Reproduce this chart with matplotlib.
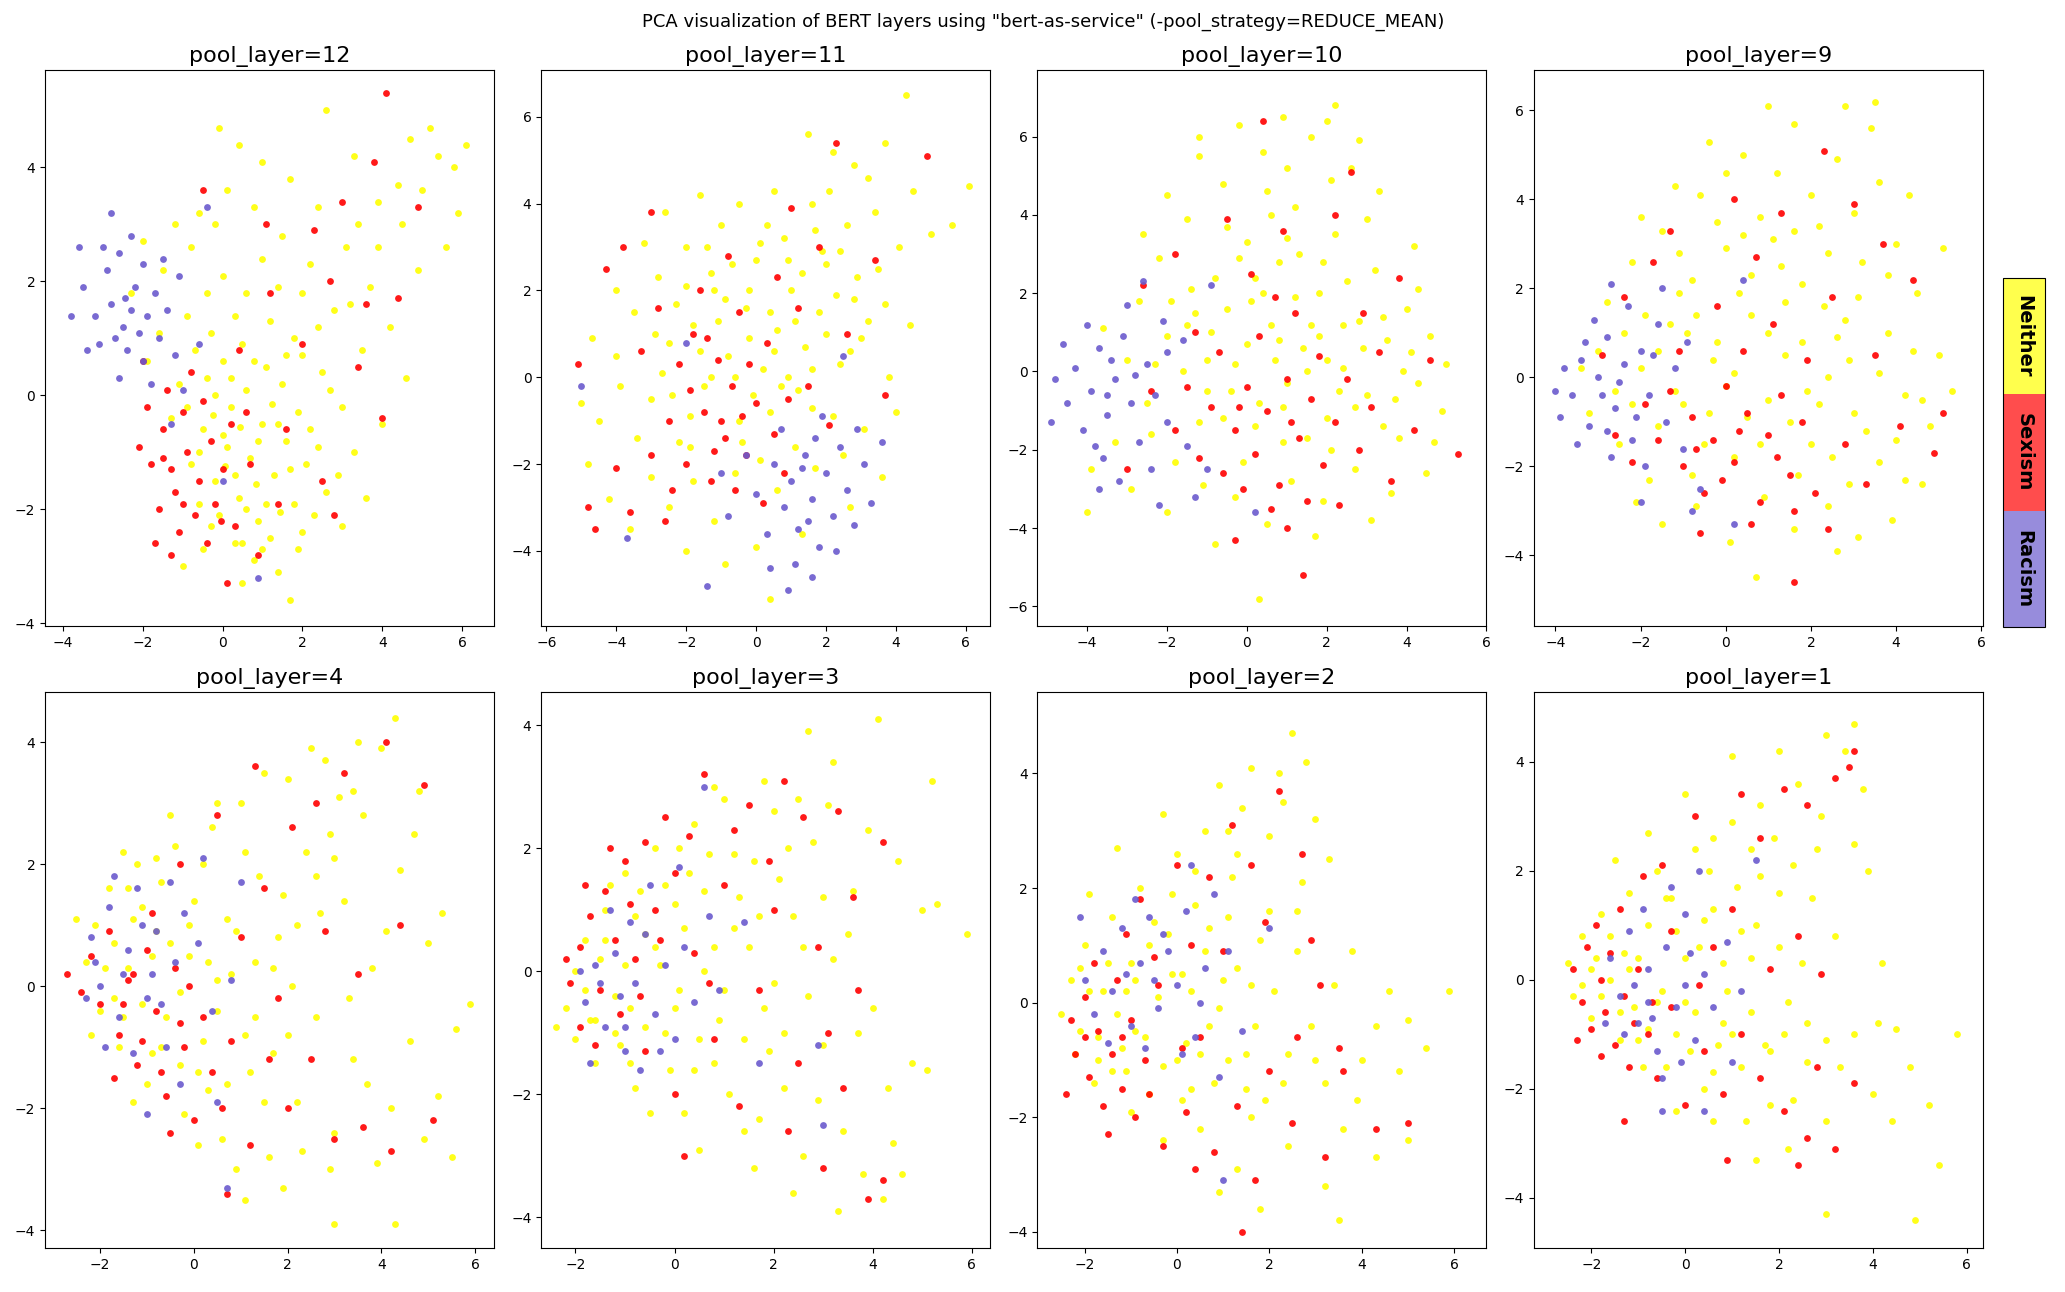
import matplotlib
matplotlib.use("Agg")
import matplotlib.pyplot as plt
from matplotlib.colors import ListedColormap, Normalize
from matplotlib.cm import ScalarMappable

# pool layers shown, in panel order
layers = [12, 11, 10, 9, 4, 3, 2, 1]
class_names = ["Neither", "Sexism", "Racism"]

# points, (PC1, PC2) per class and layer
neither_12 = [(-0.8,-1.2),(-0.5,-0.6),(-0.2,-1.5),(0.1,-0.9),(0.4,-1.8),(0.7,-1.1),(1.0,-0.5),(1.3,-1.4),(1.6,-0.8),(0.2,-0.2),
              (-0.4,0.3),(0.6,0.1),(0.9,-2.2),(0.3,-2.6),(-0.1,-2.1),(1.2,-2.5),(1.8,-1.9),(2.1,-1.2),(1.5,0.2),(0.0,0.6),
              (-0.7,0.8),(-1.1,0.2),(-1.3,-0.4),(-0.9,1.4),(-0.3,1.1),(0.5,0.9),(1.1,0.5),(1.9,-0.3),(2.4,-0.9),(2.6,-1.7),
              (0.8,-2.9),(1.4,-3.1),(0.5,-3.3),(-0.5,-2.7),(-0.6,-1.9),(0.05,-1.25),(0.85,-1.55),(1.45,-2.05),(-0.25,-0.35),(0.45,-0.55),
              (1.25,-0.15),(2.0,0.7),(-1.6,1.1),(-1.9,0.6),(-2.3,1.8),(-1.5,2.2),(-0.8,2.6),(0.0,2.1),(0.6,1.8),(1.2,1.3),
              (1.8,1.0),(2.5,0.4),(3.0,-0.2),(3.3,-1.0),(3.6,-1.8),(2.8,1.5),(2.2,2.3),(1.5,2.8),(0.8,3.3),(0.1,3.6),
              (-0.6,3.2),(-1.2,3.0),(-2.0,2.7),(0.4,4.4),(1.0,4.1),(1.7,3.8),(2.4,3.3),(3.1,2.6),(3.7,1.9),(4.2,1.2),
              (4.6,0.3),(3.9,3.4),(4.5,3.0),(5.0,3.6),(5.4,4.2),(5.8,4.0),(6.1,4.4),(5.2,4.7),(4.7,4.5),(3.3,4.2),
              (2.6,5.0),(5.6,2.6),(5.9,3.2),(4.9,2.2),(4.0,-0.5),(3.5,0.8),(2.9,-1.4),(2.0,-2.4),(3.0,-2.3),(1.7,-3.6),
              (-0.1,4.7),(-1.0,-3.0),(-0.2,3.0),(1.0,2.4),(2.0,1.8),(-0.6,-1.0),(-0.3,-2.3),(0.0,-0.7),(0.3,-1.4),(0.6,-2.0),
              (0.9,-0.8),(1.1,-1.9),(1.4,-0.5),(1.7,-1.3),(2.2,-0.6),(0.2,0.3),(0.8,0.6),(-0.2,0.0),(0.5,-2.6),(1.0,-2.7),
              (1.9,-2.7),(2.3,-2.1),(-0.9,-0.2),(1.6,0.7),(2.7,0.1),(0.3,1.4),(1.4,1.9),(2.4,1.2),(3.2,1.6),(3.9,2.6),
              (4.4,3.7),(3.4,3.0),(-0.4,1.8)]
sexism_12 = [(-1.8,-1.2),(-1.5,-0.6),(-1.2,-1.7),(-0.9,-1.0),(-0.6,-1.5),(-0.3,-0.8),(-1.6,-2.0),(-1.1,-2.4),(-0.7,-2.1),(-0.2,-1.9),
             (-1.9,-0.2),(-1.4,0.1),(-1.0,-0.3),(-0.5,-0.1),(0.0,-1.3),(0.3,-2.3),(-2.1,-0.9),(-1.3,-1.3),(-0.4,-2.6),(0.2,-0.5),
             (-0.8,0.4),(-2.0,0.6),(-1.7,-2.6),(-1.3,-2.8),(0.1,-3.3),(0.9,-2.8),(0.6,-0.3),(0.4,0.8),(1.2,1.8),(2.3,2.9),
             (3.0,3.4),(4.1,5.3),(3.8,4.1),(2.0,0.9),(1.6,-0.6),(2.5,-1.5),(3.4,0.5),(4.0,-0.4),(3.6,1.6),(2.7,2.0),
             (1.1,3.0),(-0.5,3.6),(0.7,-1.2),(-1.0,-1.9),(-1.5,-1.1),(-0.05,-2.2),(4.4,1.7),(4.9,3.3),(2.8,-2.1),(1.4,-1.9)]
racism_12 = [(-2.8,1.6),(-2.5,1.2),(-2.2,1.9),(-1.9,1.4),(-1.6,1.0),(-2.4,0.8),(-2.9,2.2),(-2.6,2.5),(-2.0,2.3),(-1.7,1.8),
             (-3.2,1.4),(-3.5,1.9),(-3.1,0.9),(-2.0,0.6),(-1.4,1.5),(-1.2,0.7),(-2.3,1.5),(-2.7,1.0),(-1.8,0.2),(-2.6,0.3),
             (-3.4,0.8),(-3.8,1.4),(-3.0,2.6),(-2.3,2.8),(-1.5,2.4),(-2.8,3.2),(-1.0,0.1),(-0.6,0.9),(-0.4,3.3),(0.0,-1.5),
             (-1.3,-0.5),(0.9,-3.2),(-1.1,2.1),(-2.1,1.1),(-2.45,1.7),(-3.6,2.6)]

neither_11 = [(-4.5,-1.0),(-4.0,0.5),(-3.5,1.5),(-3.0,-0.5),(-2.8,2.3),(-2.5,0.8),(-2.2,-1.5),(-2.0,3.0),(-1.8,1.2),(-1.5,-0.2),
              (-1.2,2.0),(-1.0,3.5),(-0.8,0.5),(-0.5,-1.0),(-0.3,1.6),(0.0,2.7),(0.2,0.2),(0.4,-0.8),(0.6,1.1),(0.8,3.2),
              (1.0,2.0),(1.2,-0.3),(1.4,0.7),(1.6,4.0),(1.8,1.5),(2.0,2.6),(2.2,-0.9),(2.4,0.3),(2.6,3.5),(2.8,1.8),
              (3.0,0.9),(3.2,4.6),(3.5,2.5),(3.8,0.0),(4.1,3.0),(4.4,1.2),(2.2,5.2),(1.5,5.6),(0.5,4.3),(-0.5,4.0),
              (-1.6,4.2),(-2.6,3.8),(-3.2,3.1),(-4.0,2.0),(-4.7,0.9),(-5.0,-0.6),(-4.8,-2.0),(-4.2,-2.8),(-3.6,-3.5),(-3.0,-2.3),
              (-2.5,-3.0),(-1.8,-2.4),(-1.2,-3.3),(-0.6,-2.2),(0.1,-1.9),(0.6,-2.6),(1.1,-1.6),(1.7,-2.1),(2.5,-1.8),(3.1,-1.2),
              (3.6,-2.3),(2.7,-3.0),(1.3,-3.6),(0.0,-3.9),(-0.9,-4.3),(0.4,-5.1),(-2.0,-4.0),(4.0,-0.8),(4.5,4.3),(5.0,3.3),
              (5.6,3.5),(4.3,6.5),(6.1,4.4),(3.7,5.4),(2.8,4.9),(-1.3,0.0),(-0.2,0.9),(0.9,0.0),(1.9,2.9),(-2.3,1.7),
              (-3.4,-1.4),(-0.7,2.6),(0.3,3.5),(1.6,-0.7),(-1.9,-0.9),(-3.9,-0.2),(2.9,2.3),(3.4,3.8),(-0.1,-0.4),(1.1,1.3),
              (-2.7,0.1),(-1.4,3.0),(-2.4,-0.4),(-2.0,2.1),(-1.6,0.6),(-1.1,1.3),(-0.6,0.0),(-0.2,2.0),(0.4,1.5),(0.7,-0.2),
              (1.3,2.4),(1.6,0.2),(2.0,1.0),(2.3,1.9),(2.7,0.6),(3.2,1.3),(-0.9,1.8),(-1.9,-1.6),(0.1,3.1),(0.9,2.7),
              (1.7,3.4),(2.4,2.9),(-2.9,1.0),(-0.4,-1.5),(0.5,0.6),(3.7,1.7),(2.1,4.3),(-1.3,2.4)]
sexism_11 = [(-2.5,-1.0),(-2.2,0.3),(-2.0,-2.0),(-1.8,1.0),(-1.5,-0.8),(-1.3,-2.4),(-1.1,0.4),(-0.9,-1.4),(-0.7,-0.2),(-0.5,1.5),
             (-0.3,-1.8),(0.0,-0.6),(0.3,0.8),(0.5,-1.3),(0.8,-2.2),(-1.6,2.0),(-2.8,1.6),(-3.3,0.6),(-3.0,-1.8),(-2.4,-2.6),
             (-1.0,-1.0),(-0.6,-2.6),(0.2,-2.9),(-1.9,-0.3),(-1.2,-1.7),(-0.2,0.3),(1.2,1.6),(1.8,3.0),(2.3,5.4),(2.6,1.0),
             (3.4,2.7),(4.9,5.1),(3.7,-0.4),(2.1,-1.1),(-3.8,3.0),(-4.0,-2.1),(-4.6,-3.5),(-4.8,-3.0),(-5.1,0.3),(-4.3,2.5),
             (-3.6,-3.1),(-0.8,2.8),(0.6,2.3),(1.5,-0.2),(-2.6,-3.3),(-1.4,0.9),(-0.4,-0.9),(1.0,3.9),(-3.0,3.8),(0.9,-0.5)]
racism_11 = [(0.5,-2.0),(0.8,-3.0),(1.0,-2.4),(1.2,-3.5),(1.4,-1.8),(1.6,-2.8),(1.8,-3.9),(2.0,-2.2),(2.2,-3.2),(2.4,-1.6),
             (2.6,-2.6),(0.3,-3.6),(0.0,-2.7),(1.1,-4.3),(1.6,-4.6),(2.8,-3.4),(3.1,-2.0),(2.9,-1.2),(0.7,-1.2),(1.9,-0.9),
             (-0.3,-1.8),(-0.8,-3.2),(-1.4,-4.8),(0.4,-4.4),(2.3,-4.0),(3.3,-2.9),(1.3,-2.1),(1.7,-1.4),(-1.0,-2.2),(3.6,-1.5),
             (-2.0,0.8),(-5.0,-0.2),(-3.7,-3.7),(2.5,0.5),(1.5,-3.3),(0.9,-4.9)]

neither_10 = [(-3.3,-1.8),(-3.0,0.3),(-2.7,1.8),(-2.5,-0.8),(-2.2,2.9),(-2.0,0.9),(-1.8,-2.3),(-1.5,3.9),(-1.3,1.5),(-1.0,-0.5),
              (-0.8,2.4),(-0.6,4.8),(-0.3,0.2),(0.0,3.3),(0.2,-1.4),(0.4,5.6),(0.6,1.2),(0.8,2.8),(1.0,-0.3),(1.2,4.2),
              (1.4,0.6),(1.6,6.0),(1.8,2.0),(2.0,-1.2),(2.2,3.5),(2.4,0.1),(2.6,5.2),(2.8,1.3),(3.0,-0.6),(3.2,2.6),
              (3.5,0.8),(3.8,-1.7),(4.0,1.6),(4.3,-0.3),(4.6,0.9),(4.9,-1.0),(5.0,0.2),(4.5,-2.6),(3.6,-3.1),(2.7,-2.5),
              (1.9,-3.3),(1.1,-2.8),(0.5,-3.9),(-0.3,-3.2),(-1.1,-2.9),(-2.0,-3.6),(-0.8,-4.4),(0.3,-5.8),(2.2,6.8),(2.0,6.4),
              (1.0,5.2),(-0.2,6.3),(-1.2,5.5),(-2.0,4.5),(3.3,4.6),(3.0,3.9),(4.2,3.2),(4.3,2.1),(-3.6,1.1),(-3.9,-2.5),
              (-2.9,-3.0),(3.1,-3.8),(1.7,-4.2),(0.7,0.3),(-0.6,-1.2),(1.5,-1.7),(2.9,0.6),(-1.6,0.0),(0.1,1.8),(1.3,3.0),
              (-0.5,3.7),(2.5,2.3),(3.9,0.0),(-2.4,-1.6),(0.9,-0.9),(-1.4,2.1),(0.6,4.0),(2.3,-0.5),(-0.1,-2.3),(3.4,-1.4),
              (4.7,-1.8),(1.8,0.9),(-0.9,1.0),(-2.6,3.5),(0.2,2.4),(2.1,4.9),(-4.0,-3.6),(-1.2,6.0),(2.8,5.9),(0.9,6.5),
              (-1.5,1.2),(-1.0,0.3),(-0.5,1.6),(0.0,0.7),(0.4,2.0),(0.8,0.8),(1.2,1.9),(1.6,1.2),(2.0,0.3),(2.4,1.2),
              (2.7,-0.9),(-0.4,-0.5),(0.3,-0.8),(1.5,0.0),(-1.9,1.8),(-0.2,2.9),(1.0,3.4),(1.9,2.8),(3.4,1.4),(3.7,-0.7),
              (-1.2,-1.3),(0.9,-1.8),(2.1,-2.0),(4.1,0.5),(-2.3,0.2),(0.5,4.6)]
sexism_10 = [(-1.8,-1.5),(-1.5,-0.4),(-1.2,-2.2),(-0.9,-0.9),(-0.6,-2.6),(-0.3,-1.5),(0.0,-0.4),(0.2,-2.1),(0.5,-1.0),(0.8,-2.9),
             (1.0,-0.2),(1.3,-1.7),(1.6,-0.7),(1.9,-2.4),(2.2,-1.3),(2.5,-0.2),(2.8,-2.0),(3.1,-0.9),(-0.7,0.5),(0.3,0.9),
             (1.2,1.5),(-1.3,1.0),(0.6,-3.5),(1.5,-3.3),(-0.1,-3.0),(2.3,-3.4),(0.9,3.6),(0.4,6.4),(-1.8,3.0),(-0.5,3.9),
             (2.2,4.0),(2.6,5.1),(3.8,2.4),(4.2,-1.5),(4.6,0.3),(5.3,-2.1),(3.6,-2.8),(-2.4,-0.5),(-3.0,-2.5),(-2.6,2.2),
             (1.4,-5.2),(1.0,-4.0),(-0.3,-4.3),(0.7,1.9),(1.8,0.4),(-0.2,-0.9),(1.1,-1.3),(0.1,2.5),(3.3,0.5),(2.9,1.5)]
racism_10 = [(-4.5,-0.8),(-4.3,0.1),(-4.1,-1.5),(-3.9,-0.5),(-3.7,0.6),(-3.5,-1.1),(-3.3,-0.2),(-3.1,0.9),(-2.9,-0.8),(-2.7,-1.8),
             (-2.5,0.2),(-2.3,-0.6),(-2.1,1.3),(-3.6,-2.2),(-4.0,1.2),(-4.8,-0.2),(-4.9,-1.3),(-3.0,1.7),(-2.4,-2.5),(-3.4,0.3),
             (-3.8,-1.9),(-2.8,-0.1),(-2.0,-1.3),(-1.5,-1.9),(-1.6,0.8),(-2.6,2.3),(-3.2,-2.8),(-1.0,-2.5),(-4.6,0.7),(-3.5,-0.6),
             (-2.2,-3.4),(0.2,-3.6),(-1.3,-3.2),(-3.7,-3.0),(-0.9,2.2),(-2.0,0.5)]

neither_9 = [(-3.2,-0.8),(-3.0,0.6),(-2.8,1.7),(-2.5,-1.5),(-2.2,2.6),(-2.0,0.2),(-1.8,-2.3),(-1.5,3.3),(-1.3,1.2),(-1.0,-0.6),
             (-0.8,2.2),(-0.6,4.1),(-0.3,0.4),(0.0,2.9),(0.2,-1.8),(0.4,5.0),(0.6,1.4),(0.8,3.6),(1.0,-0.5),(1.2,4.6),
             (1.4,0.5),(1.6,5.7),(1.8,2.1),(2.0,-1.5),(2.2,3.4),(2.4,0.0),(2.6,4.9),(2.8,1.3),(3.0,-0.8),(3.2,2.6),
             (3.4,5.6),(3.6,-1.9),(3.8,1.0),(4.0,3.0),(4.2,-0.4),(4.5,1.9),(4.8,-1.1),(5.0,0.5),(5.3,-0.3),(5.1,2.9),
             (4.6,-2.4),(3.9,-3.2),(3.1,-3.6),(2.4,-2.9),(1.6,-3.4),(0.9,-2.7),(0.1,-3.7),(-0.7,-2.9),(-1.5,-3.3),(-2.1,-2.8),
             (0.7,-4.5),(2.8,6.1),(3.5,6.2),(1.0,6.1),(-0.4,5.3),(-1.2,4.3),(-2.0,3.6),(4.3,4.1),(3.6,4.4),(2.0,4.1),
             (-3.4,0.2),(-2.6,-0.3),(-1.6,-1.1),(-0.5,-1.5),(0.5,-0.9),(1.5,-1.0),(2.5,-1.8),(3.3,-1.2),(4.4,0.6),(-0.9,1.0),
             (0.3,1.9),(1.3,2.5),(2.3,1.6),(3.0,3.7),(-1.9,1.4),(-0.2,3.5),(1.9,-0.3),(0.0,-0.2),(2.9,0.4),(-2.4,1.0),
             (4.0,-1.4),(1.1,3.1),(-1.1,2.8),(2.6,-3.9),(0.0,4.6),(-1.6,0.6),(-1.2,-0.3),(-0.7,1.4),(-0.2,0.8),(0.2,0.1),
             (0.6,2.3),(1.0,1.0),(1.4,1.7),(1.8,0.8),(2.2,-0.6),(2.6,0.9),(3.1,1.8),(-0.4,-0.8),(0.8,-1.5),(1.7,-2.2),
             (2.9,-2.4),(3.6,0.1),(-1.1,1.9),(0.4,3.2),(1.6,3.3),(2.4,2.8),(3.8,2.3),(4.6,-0.5),(-2.2,-0.6),(-0.8,-2.2),
             (4.2,-2.3)]
sexism_9 = [(-1.6,-1.4),(-1.3,-0.3),(-1.0,-2.0),(-0.8,-0.9),(-0.5,-2.6),(-0.3,-1.4),(0.0,-0.2),(0.2,-1.9),(0.5,-0.8),(0.8,-2.8),
            (1.0,-1.3),(1.3,-0.4),(1.5,-2.2),(1.8,-1.0),(2.1,-2.6),(-1.9,-0.6),(-2.2,-1.9),(-1.1,0.6),(0.4,0.6),(1.1,1.2),
            (-0.2,1.6),(0.6,-3.3),(-0.6,-3.5),(1.6,-3.0),(2.4,-3.4),(1.6,-4.6),(0.7,2.7),(1.3,3.7),(2.3,5.1),(3.0,3.9),
            (-1.3,3.3),(0.2,4.0),(2.5,1.8),(3.5,0.5),(4.1,-1.1),(4.4,2.2),(4.9,-1.7),(5.1,-0.8),(3.3,-2.4),(-2.6,-1.3),
            (-2.9,0.5),(-1.7,2.6),(-0.7,-1.6),(0.3,-1.2),(1.9,0.4),(2.8,-1.5),(-0.1,-2.3),(3.7,3.0),(-2.4,1.8),(1.2,-1.8)]
racism_9 = [(-3.6,-0.4),(-3.4,0.4),(-3.2,-1.1),(-3.0,0.0),(-2.8,0.9),(-2.6,-0.7),(-2.4,0.3),(-2.2,-1.4),(-2.0,0.6),(-1.8,-0.4),
            (-1.6,1.2),(-3.1,1.3),(-2.7,-1.8),(-3.8,0.2),(-4.0,-0.3),(-3.5,-1.5),(-2.3,1.6),(-1.4,-1.0),(-1.2,0.2),(-2.5,-0.1),
            (-2.9,-0.4),(-1.9,-2.0),(-1.0,-1.6),(-0.6,-2.5),(-2.0,-2.8),(-1.5,2.0),(-3.3,0.8),(-2.1,-0.9),(-0.9,0.8),(0.2,-3.3),
            (-0.8,-3.0),(-2.7,2.1),(0.4,2.2),(-1.7,0.5),(-2.8,-1.2),(-3.9,-0.9)]

neither_4 = [(-2.3,0.4),(-2.1,1.0),(-2.0,-0.4),(-1.8,1.6),(-1.6,-1.0),(-1.4,0.3),(-1.2,2.0),(-1.0,-1.6),(-0.8,0.9),(-0.6,-0.5),
             (-0.4,2.3),(-0.2,-2.1),(0.0,1.4),(0.2,-0.9),(0.4,2.6),(0.6,-2.5),(0.8,0.2),(1.0,3.0),(1.2,-1.4),(1.4,1.8),
             (1.6,-2.8),(1.8,0.8),(2.0,3.4),(2.2,-1.9),(2.4,2.2),(2.6,-0.5),(2.8,3.7),(3.0,-2.4),(3.2,1.4),(3.4,-1.2),
             (3.6,2.8),(3.8,0.3),(4.0,3.9),(4.2,-2.0),(4.4,1.9),(4.6,-0.9),(4.8,3.2),(5.0,0.7),(5.2,-1.8),(5.5,-2.8),
             (5.9,-0.3),(5.3,1.2),(4.3,4.4),(4.7,2.5),(3.5,4.0),(2.5,3.9),(1.5,3.5),(0.5,3.0),(-0.5,2.8),(-1.5,2.2),
             (0.9,-3.0),(1.9,-3.3),(2.9,-3.0),(3.9,-2.9),(1.1,-3.5),(3.0,-3.9),(4.3,-3.9),(-0.9,-1.1),(-0.1,0.5),(0.7,1.1),
             (1.3,-0.5),(2.1,0.0),(-1.7,-0.2),(-1.1,1.3),(0.3,-1.7),(1.1,2.2),(2.7,1.2),(3.3,-0.2),(-0.3,-1.3),(0.5,0.1),
             (1.7,-1.1),(-2.5,1.1),(-0.7,1.7),(0.1,-2.6),(2.3,-2.7),(3.7,-1.6),(4.1,0.9),(-1.3,-1.9),(1.9,1.5),(2.9,2.5),
             (3.1,3.1),(0.2,2.0),(-2.2,-0.8),(4.9,-2.5),(5.6,-0.7),(-1.9,0.3),(-1.7,0.7),(-1.5,-0.5),(-1.3,1.1),(-1.1,-0.3),
             (-0.9,0.5),(-0.7,-1.0),(-0.5,0.7),(-0.3,-0.1),(-0.1,1.0),(0.1,-1.4),(0.3,0.4),(0.5,-0.4),(0.7,-1.6),(0.9,0.9),
             (1.1,-0.8),(1.3,0.4),(1.5,-1.9),(1.7,0.3),(2.2,1.0),(2.6,1.8),(3.0,2.1),(3.4,3.2),(-1.4,1.6),(-0.8,2.1),
             (2.0,-0.8)]
sexism_4 = [(-2.2,0.5),(-2.0,-0.3),(-1.8,0.9),(-1.6,-0.8),(-1.4,0.1),(-1.2,-1.3),(-1.0,0.6),(-0.8,-0.4),(-0.6,-1.8),(-0.4,0.3),
            (-0.2,-1.0),(0.0,-2.2),(0.2,-0.5),(0.4,-1.4),(-1.1,-0.9),(-1.7,-1.5),(-0.9,1.2),(-2.4,-0.1),(-0.5,-2.4),(0.6,-2.0),
            (-1.3,0.2),(-0.1,0.0),(0.8,-0.9),(1.0,0.8),(1.5,1.6),(2.1,2.6),(2.6,3.0),(3.2,3.5),(4.1,4.0),(4.9,3.3),
            (1.3,3.6),(0.5,2.8),(-0.3,2.0),(1.8,-0.2),(2.5,-1.2),(3.0,-2.5),(3.6,-2.3),(4.2,-2.7),(5.1,-2.2),(3.5,0.2),
            (2.8,0.9),(1.2,-2.6),(0.7,-3.4),(-0.7,-1.4),(-1.5,-0.3),(2.0,-2.0),(-2.7,0.2),(1.6,-1.2),(4.4,1.0),(-0.3,-0.6)]
racism_4 = [(-2.2,0.8),(-2.0,0.0),(-1.8,1.3),(-1.6,-0.5),(-1.4,0.6),(-1.2,1.6),(-1.0,-0.2),(-0.8,0.9),(-0.6,-1.0),(-0.4,0.4),
            (-0.2,1.2),(-1.7,1.8),(-1.3,-1.1),(-0.9,0.2),(-2.3,-0.2),(-1.5,0.2),(-0.7,-0.3),(-1.1,1.0),(0.1,0.7),(0.4,-0.4),
            (-0.3,-1.6),(0.8,0.1),(-1.9,-1.0),(-0.5,1.7),(0.2,2.1),(1.0,1.7),(0.7,-3.3),(0.5,-1.9),(-2.1,0.4),(-1.0,-2.1)]

neither_3 = [(-2.2,-0.6),(-2.0,-1.1),(-2.0,0.0),(-1.8,0.5),(-1.6,-1.5),(-1.4,1.0),(-1.2,-0.4),(-1.0,1.6),(-0.8,-1.9),(-0.6,0.6),
             (-0.4,2.0),(-0.2,-1.0),(0.0,1.1),(0.2,-2.3),(0.4,2.4),(0.6,0.0),(0.8,-1.5),(1.0,2.8),(1.2,0.7),(1.4,-2.6),
             (1.6,1.8),(1.8,-0.6),(2.0,2.6),(2.2,-1.9),(2.4,0.9),(2.6,-3.0),(2.8,2.1),(3.0,-1.2),(3.2,0.2),(3.4,-2.6),
             (3.6,1.3),(3.8,-3.3),(4.0,-0.6),(4.2,-3.7),(4.4,-2.8),(4.6,-3.3),(4.8,-1.5),(5.1,-1.6),(5.0,1.0),(5.3,1.1),
             (5.9,0.6),(5.2,3.1),(4.1,4.1),(3.2,3.4),(2.7,3.9),(1.8,3.1),(0.8,3.0),(-0.5,-2.3),(0.5,-2.9),(1.6,-3.2),
             (2.4,-3.6),(3.3,-3.9),(-1.1,-1.2),(-0.3,0.1),(0.3,1.6),(0.9,-0.8),(1.5,0.4),(2.1,1.5),(-1.5,0.2),(-0.9,-0.6),
             (0.1,-0.3),(1.1,-2.0),(1.9,-1.3),(2.7,-0.4),(3.5,0.6),(4.3,-1.9),(-0.7,1.3),(0.7,1.9),(2.5,2.8),(3.9,2.3),
             (4.5,1.8),(-1.7,-0.8),(-0.1,-1.6),(1.3,1.2),(2.9,-2.1),(3.7,-1.0),(-2.4,-0.9),(0.5,-1.1),(1.7,-2.4),(3.1,2.7),
             (-1.8,-0.3),(-1.6,-0.8),(-1.4,0.5),(-1.2,-1.0),(-1.0,0.1),(-0.8,0.9),(-0.6,-0.9),(-0.4,0.4),(-0.2,1.4),(0.0,-0.6),
             (0.2,0.7),(0.4,-1.6),(0.6,1.3),(0.8,0.4),(1.0,-0.3),(1.2,1.9),(1.4,-1.1),(1.7,0.9),(2.0,-0.2),(2.3,2.0),
             (2.6,0.4),(-0.9,-1.5),(0.1,2.0),(3.0,1.2),(2.2,-1.0),(-1.3,1.4)]
sexism_3 = [(-2.1,-0.2),(-1.9,0.4),(-1.9,-0.9),(-1.7,0.9),(-1.5,-0.3),(-1.4,1.3),(-1.2,0.5),(-1.0,1.8),(-0.8,0.2),(-0.6,2.1),
            (-0.4,1.0),(-0.2,2.5),(0.0,1.6),(-1.6,-1.2),(-1.1,-0.7),(-0.9,1.1),(-2.2,0.2),(-1.3,2.0),(0.3,2.2),(0.6,3.2),
            (1.0,1.4),(1.5,2.7),(2.0,1.0),(2.6,2.5),(3.3,2.6),(3.6,1.2),(3.7,-0.3),(4.2,2.1),(2.9,0.4),(1.7,-0.3),
            (0.8,-1.1),(0.0,-2.0),(-0.6,-1.3),(1.3,-2.2),(2.3,-2.6),(3.0,-3.2),(3.9,-3.7),(4.2,-3.4),(2.5,-1.5),(3.4,-1.9),
            (-0.3,0.5),(0.4,0.3),(1.2,2.3),(-0.7,-0.4),(1.9,1.8),(-1.8,1.4),(0.7,-0.2),(3.1,-1.0),(0.2,-3.0),(2.2,3.1)]
racism_3 = [(-1.8,-0.5),(-1.6,0.1),(-1.4,-0.9),(-1.2,0.3),(-1.0,-1.3),(-0.8,-0.2),(-0.6,0.6),(-0.4,-0.7),(-0.2,0.1),(0.0,-1.1),
            (0.2,0.4),(0.4,-0.5),(-1.1,-0.4),(-1.3,1.0),(-0.7,-1.6),(-1.7,-1.5),(-0.5,1.4),(0.7,0.9),(-0.9,0.8),(-1.5,-0.2),
            (-0.3,-1.3),(0.9,-0.3),(1.4,0.8),(1.7,-1.5),(3.0,-2.5),(2.9,-1.2),(0.6,3.0),(-1.0,-0.9),(0.1,1.7),(-1.9,0.0)]

neither_2 = [(-2.5,-0.2),(-2.3,0.4),(-2.2,-0.9),(-2.0,1.0),(-1.8,-1.4),(-1.6,0.2),(-1.4,1.5),(-1.2,-0.8),(-1.0,0.7),(-0.8,2.0),
             (-0.6,-1.6),(-0.4,0.1),(-0.2,1.2),(0.0,2.6),(0.2,-0.7),(0.4,1.7),(0.6,3.0),(0.8,-1.4),(1.0,0.4),(1.2,2.2),
             (1.4,3.4),(1.6,-2.0),(1.8,1.1),(2.0,2.9),(2.2,4.0),(2.4,-0.9),(2.6,1.6),(2.8,4.2),(3.0,3.2),(3.2,-1.4),
             (3.4,0.3),(3.6,-2.2),(3.8,0.9),(4.0,-1.0),(4.3,-0.4),(4.6,0.2),(5.0,-0.3),(5.4,-0.8),(5.9,0.2),(5.0,-2.4),
             (4.3,-2.7),(3.2,-3.2),(2.4,-2.5),(1.3,-2.9),(0.5,-2.2),(-0.3,-2.4),(-1.0,-1.9),(0.9,-3.3),(1.8,-3.6),(3.5,-3.8),
             (2.5,4.7),(1.6,4.1),(0.9,3.8),(-0.3,3.3),(-1.3,2.7),(-1.9,1.9),(3.3,2.5),(2.7,2.1),(-0.9,-0.5),(0.1,0.5),
             (0.7,-0.4),(1.5,-0.9),(-1.7,-0.6),(-0.6,1.0),(0.3,-1.5),(1.1,1.5),(2.1,0.2),(2.9,-0.4),(1.9,-1.7),(-1.4,-1.2),
             (0.0,-1.0),(-0.1,1.9),(1.3,2.6),(2.3,3.5),(-2.1,0.6),(3.9,-1.7),(4.8,-1.2),(0.6,0.9),(1.6,0.3),(-1.1,0.2),
             (-2.1,-0.5),(-1.9,0.2),(-1.7,-1.0),(-1.5,0.7),(-1.3,-0.2),(-1.1,-1.2),(-0.9,0.4),(-0.7,-0.6),(-0.5,1.4),(-0.3,-1.1),
             (-0.1,0.5),(0.1,-1.7),(0.3,0.2),(0.5,-0.9),(0.7,1.3),(0.9,-0.1),(1.1,-1.0),(1.3,0.6),(1.5,-1.5),(1.7,-0.4),
             (2.0,1.6),(2.3,-1.4),(2.6,0.9),(0.4,2.3),(1.1,3.0),(3.0,-1.0)]
sexism_2 = [(-2.3,-0.3),(-2.2,-0.9),(-2.0,0.1),(-1.9,-1.3),(-1.7,-0.5),(-1.6,-1.8),(-1.4,-0.9),(-1.3,0.4),(-1.2,-1.5),(-1.0,-0.3),
            (-0.9,-2.0),(-0.7,-1.0),(-0.5,0.8),(-2.4,-1.6),(-1.8,0.7),(-1.5,-2.3),(-0.6,-1.6),(-1.1,1.2),(-0.3,-2.5),(0.2,-1.9),
            (0.5,-0.6),(0.3,1.0),(0.0,2.4),(0.7,2.2),(1.2,3.1),(1.6,2.4),(2.2,3.7),(2.7,2.6),(3.1,0.3),(2.6,-0.6),
            (2.0,-1.2),(1.3,-1.8),(0.8,-2.6),(1.4,-4.0),(1.7,-3.1),(2.5,-2.1),(3.2,-2.7),(3.6,-1.2),(4.3,-2.2),(5.0,-2.1),
            (3.5,-0.8),(1.0,0.9),(-0.4,0.3),(0.1,-0.8),(-1.2,-0.6),(-2.0,-0.6),(1.9,1.4),(0.4,-2.9),(-0.8,1.8),(2.9,1.1)]
racism_2 = [(-2.0,0.4),(-1.8,-0.2),(-1.6,0.9),(-1.4,0.2),(-1.2,1.3),(-1.0,-0.4),(-0.8,0.7),(-0.6,1.5),(-0.4,-0.1),(-0.2,0.9),
            (0.0,0.3),(0.2,1.6),(0.4,-0.6),(0.6,0.6),(0.8,1.9),(-1.1,0.5),(-0.7,-0.8),(-0.3,1.2),(-1.5,-0.7),(0.1,-0.9),
            (-0.9,1.8),(0.5,0.0),(1.1,0.9),(1.4,-0.5),(0.9,-1.3),(-0.5,0.4),(1.0,-3.1),(2.0,1.3),(-2.1,1.5),(0.3,2.4)]

neither_1 = [(-2.5,0.3),(-2.4,-0.3),(-2.2,0.8),(-2.0,-0.7),(-1.8,1.2),(-1.6,0.0),(-1.4,-1.1),(-1.2,1.6),(-1.0,0.4),(-0.8,-0.9),
             (-0.6,2.0),(-0.4,-1.6),(-0.2,0.9),(0.0,-0.4),(0.2,2.4),(0.4,-2.0),(0.6,1.3),(0.8,-0.8),(1.0,2.9),(1.2,-1.6),
             (1.4,0.4),(1.6,3.2),(1.8,-2.3),(2.0,1.6),(2.2,-0.4),(2.4,3.6),(2.6,-1.5),(2.8,2.4),(3.0,-2.6),(3.2,0.8),
             (3.4,4.2),(3.6,-1.0),(3.8,3.5),(4.0,-2.1),(4.2,0.3),(4.5,-0.9),(4.8,-1.6),(5.2,-2.3),(5.8,-1.0),(5.4,-3.4),
             (4.9,-4.4),(3.0,-4.3),(2.2,-3.1),(1.5,-3.3),(0.6,-2.6),(-0.2,-2.4),(1.0,4.1),(2.0,4.2),(3.0,4.5),(3.6,4.7),
             (0.0,3.4),(-0.8,2.7),(-1.5,2.2),(2.9,3.0),(3.6,2.5),(-1.3,0.5),(-0.5,-0.2),(0.3,0.6),(1.1,1.7),(1.9,2.6),
             (-0.9,-1.6),(0.1,-1.3),(0.9,-0.2),(1.7,-1.2),(2.5,0.3),(-1.9,0.4),(-0.3,1.5),(1.3,-2.6),(2.3,-2.2),(3.3,-1.6),
             (4.1,-0.8),(-1.1,-0.5),(0.5,2.0),(1.5,1.0),(2.7,1.5),(-2.2,-0.1),(0.7,-1.2),(2.1,-1.0),(4.4,-2.6),(3.9,2.0),
             (-2.0,0.2),(-1.8,-0.3),(-1.6,0.8),(-1.4,-0.6),(-1.2,0.2),(-1.0,-1.1),(-0.8,1.0),(-0.6,-0.4),(-0.4,1.5),(-0.2,-1.0),
             (0.0,0.4),(0.2,-0.6),(0.4,1.1),(0.6,-1.7),(0.8,0.3),(1.0,-1.0),(1.2,0.9),(1.4,-0.6),(1.6,1.9),(1.8,-1.3),
             (2.0,0.6),(2.3,2.1),(2.6,-0.8),(0.6,2.6),(1.4,2.4),(3.0,-1.1)]
sexism_1 = [(-2.4,0.2),(-2.2,-0.4),(-2.1,0.6),(-2.0,-0.9),(-1.8,0.0),(-1.7,-0.6),(-1.6,0.5),(-1.5,-1.2),(-1.3,-0.3),(-1.2,-1.6),
            (-1.0,0.2),(-0.8,-1.0),(-2.3,-1.1),(-1.9,1.0),(-1.4,1.3),(-1.1,-0.8),(-0.6,-1.8),(-0.3,-0.5),(0.0,-2.3),(0.4,-1.3),
            (0.8,-2.1),(1.2,-1.0),(1.6,-1.8),(2.1,-2.4),(2.6,-2.9),(3.2,-3.1),(2.8,-1.6),(1.8,0.2),(2.4,0.8),(1.6,2.6),
            (2.1,3.5),(2.6,3.2),(3.2,3.7),(3.5,3.9),(3.6,4.2),(1.2,3.4),(0.2,3.0),(-0.5,2.1),(0.6,0.6),(-0.3,0.9),
            (0.9,-3.3),(2.4,-3.4),(3.6,-1.9),(-1.3,-2.6),(-0.9,1.9),(0.3,-0.1),(1.0,1.3),(-1.8,-1.4),(2.9,0.1),(-0.7,-0.4)]
racism_1 = [(-1.6,0.4),(-1.4,-0.3),(-1.2,0.9),(-1.0,-0.8),(-0.8,0.2),(-0.6,-1.3),(-0.4,0.6),(-0.2,-0.5),(0.0,1.2),(0.2,-1.1),
            (0.4,0.1),(-1.1,-0.1),(-0.7,-0.7),(-0.9,1.3),(-0.5,-1.8),(-1.3,-1.0),(-0.3,1.7),(0.1,0.5),(-0.1,-1.5),(0.6,-0.5),
            (0.9,0.7),(1.2,-0.2),(-1.7,-0.8),(0.3,2.0),(1.5,2.2),(0.4,-2.4),(-0.5,-2.4),(1.0,-1.5),(-0.8,-0.4),(0.0,-0.1)]

points = {
    12: (neither_12, sexism_12, racism_12),
    11: (neither_11, sexism_11, racism_11),
    10: (neither_10, sexism_10, racism_10),
    9: (neither_9, sexism_9, racism_9),
    4: (neither_4, sexism_4, racism_4),
    3: (neither_3, sexism_3, racism_3),
    2: (neither_2, sexism_2, racism_2),
    1: (neither_1, sexism_1, racism_1),
}

# axis ranges as seen in each panel
xlims = {12: (-4.44, 6.79), 11: (-6.15, 6.7), 10: (-5.24, 6.0), 9: (-4.51, 6.03),
         4: (-3.17, 6.4), 3: (-2.69, 6.37), 2: (-3.02, 6.7), 1: (-3.23, 6.34)}
ylims = {12: (-4.05, 5.71), 11: (-5.73, 7.08), 10: (-6.5, 7.7), 9: (-5.59, 6.91),
         4: (-4.29, 4.82), 3: (-4.5, 4.54), 2: (-4.28, 5.42), 1: (-4.92, 5.28)}

colors = ["yellow", "red", "slateblue"]

fig = plt.figure(figsize=(20.65, 12.92), dpi=100)

for i, layer in enumerate(layers):
    row, col = divmod(i, 4)
    bottom = 0.5155 if row == 0 else 0.0341
    ax = fig.add_axes([0.0218 + col * 0.2403, bottom, 0.2174, 0.4303])
    for pts, c in zip(points[layer], colors):
        xs = [p[0] for p in pts]
        ys = [p[1] for p in pts]
        ax.scatter(xs, ys, s=24, c=c, alpha=0.9, linewidths=0)
    ax.set_xlim(*xlims[layer])
    ax.set_ylim(*ylims[layer])
    ax.set_title("pool_layer=%d" % layer, fontsize=16)

fig.suptitle('PCA visualization of BERT layers using "bert-as-service" (-pool_strategy=REDUCE_MEAN)',
             fontsize=13, x=0.505, y=0.99)

# class colour bar on the right
cax = fig.add_axes([0.970, 0.5147, 0.0203, 0.270])
cmap = ListedColormap(["#978cdc", "#ff4d4d", "#ffff4d"])
cb = fig.colorbar(ScalarMappable(norm=Normalize(0, 3), cmap=cmap), cax=cax)
cb.set_ticks([])
for k, name in enumerate(["Racism", "Sexism", "Neither"]):
    cax.text(0.5, k + 0.5, name, rotation=270, ha="center", va="center",
             fontsize=14, fontweight="bold", transform=cax.transData)

fig.savefig("out.png", dpi=100)
